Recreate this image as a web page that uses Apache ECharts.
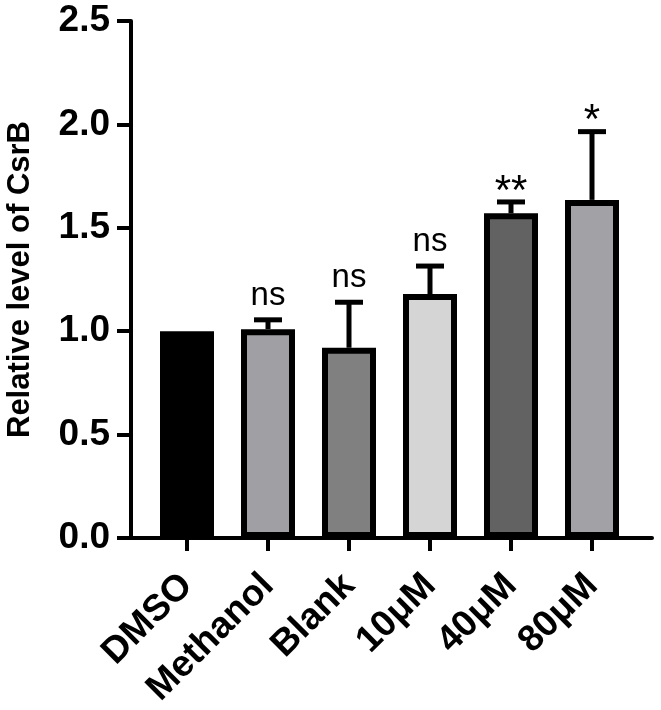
<!DOCTYPE html>
<html>
<head>
<meta charset="utf-8">
<script src="https://cdn.jsdelivr.net/npm/echarts@6/dist/echarts.min.js"></script>
<style>
  html, body { margin: 0; padding: 0; background: #fff; }
  #chart { width: 661px; height: 710px; }
</style>
</head>
<body>
<div id="chart"></div>
<script>
// data
const categories = ["DMSO", "Methanol", "Blank", "10μM", "40μM", "80μM"];
const means = [1.0, 1.01, 0.92, 1.18, 1.57, 1.635];
const errUp = [0, 0.045, 0.22, 0.135, 0.055, 0.33];
const signif = ["", "ns", "ns", "ns", "**", "*"];
const barColors = ["#000000", "#a0a0a4", "#808080", "#d5d5d5", "#626262", "#a2a2a6"];
const yTicks = [0, 0.5, 1.0, 1.5, 2.0, 2.5];

const font = "Arial, 'Liberation Sans', Helvetica, sans-serif";
const chart = echarts.init(document.getElementById("chart"));

const barData = means.map((v, i) => ({
  value: v,
  itemStyle: { color: barColors[i] }
}));
const errData = means.map((v, i) => [i, v, v + errUp[i]]);

const option = {
  animation: false,
  grid: [
    { left: 131, right: 9, top: 21, bottom: 172, outerBoundsMode: "none" },
    { left: 146.5, right: 28.5, top: 21, bottom: 172, outerBoundsMode: "none" }
  ],
  xAxis: [
    {
      gridIndex: 0, type: "value", min: 0, max: 1,
      axisLine: { lineStyle: { color: "#000", width: 4 } },
      axisTick: { show: false }, axisLabel: { show: false }, splitLine: { show: false }
    },
    {
      gridIndex: 1, type: "category", data: categories,
      axisLine: { show: false },
      axisTick: { show: true, alignWithLabel: true, length: 13, lineStyle: { color: "#000", width: 4 } },
      axisLabel: {
        rotate: 45, interval: 0, margin: 42, color: "#000",
        fontFamily: font, fontWeight: "bold", fontSize: 37
      }
    }
  ],
  yAxis: [
    {
      gridIndex: 0, type: "value", min: yTicks[0], max: yTicks[yTicks.length - 1], interval: 0.5,
      name: "Relative level of CsrB", nameLocation: "middle", nameGap: 95, nameRotate: 90,
      nameTextStyle: { color: "#000", fontFamily: font, fontWeight: "bold", fontSize: 31 },
      axisLine: { show: true, lineStyle: { color: "#000", width: 4 } },
      axisTick: { show: true, length: 14, lineStyle: { color: "#000", width: 4 } },
      axisLabel: {
        margin: 21, color: "#000", fontFamily: font, fontWeight: "bold", fontSize: 37,
        formatter: v => v.toFixed(1)
      },
      splitLine: { show: false }
    },
    {
      gridIndex: 1, type: "value", min: yTicks[0], max: yTicks[yTicks.length - 1],
      show: false
    }
  ],
  series: [
    {
      type: "bar", xAxisIndex: 1, yAxisIndex: 1,
      data: barData, barWidth: 54,
      itemStyle: { borderColor: "#000", borderWidth: 6 },
      z: 3
    },
    {
      type: "custom", xAxisIndex: 1, yAxisIndex: 1,
      data: errData,
      z: 2,
      renderItem: function (params, api) {
        const i = api.value(0);
        const base = api.coord([i, api.value(1)]);
        const top = api.coord([i, api.value(2)]);
        const children = [];
        if (api.value(2) > api.value(1)) {
          children.push({
            type: "line",
            shape: { x1: base[0], y1: base[1], x2: top[0], y2: top[1] },
            style: { stroke: "#000", lineWidth: 5 }
          });
          children.push({
            type: "line",
            shape: { x1: top[0] - 14, y1: top[1], x2: top[0] + 14, y2: top[1] },
            style: { stroke: "#000", lineWidth: 5 }
          });
        }
        const s = signif[params.dataIndex];
        if (s) {
          const star = s.indexOf("*") >= 0;
          children.push({
            type: "text",
            z2: 10,
            style: {
              text: s, x: top[0], y: top[1] - (star ? 10 : 24),
              align: "center", verticalAlign: "middle",
              fill: "#000", fontFamily: font,
              fontSize: star ? 42 : 33
            }
          });
        }
        return { type: "group", children: children };
      }
    }
  ]
};
chart.setOption(option);
</script>
</body>
</html>
